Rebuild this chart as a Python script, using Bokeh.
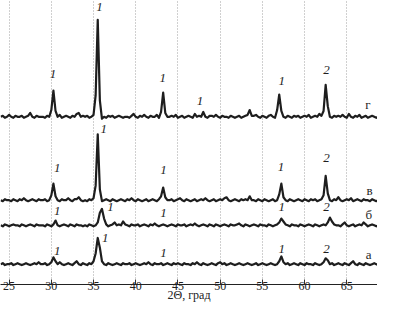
import numpy as np
from bokeh.plotting import figure
from bokeh.models import ColumnDataSource, FixedTicker
from bokeh.core.properties import value
from bokeh.embed import file_html
from bokeh.resources import INLINE

# 2-theta sampling (degrees), 0.25 deg step from 24.0 to 68.75
TWO_THETA = np.arange(24.0, 68.76, 0.25)

# intensities (arbitrary units), rows of 5 degrees
I_G = [  # trace "г"
    3,4,2,3,5,3,2,4,3,3,4,2,3,4,7,3,2,4,3,3,
    3,2,4,3,10,30,9,3,5,2,3,4,3,2,4,3,6,7,3,4,
    3,4,2,3,5,25,103,20,1,3,2,4,3,4,2,3,4,3,2,3,
    3,2,4,6,3,2,4,3,5,3,2,4,3,3,5,2,8,28,7,3,
    3,4,3,5,2,3,4,2,3,4,3,2,6,3,4,3,8,3,2,4,
    4,3,5,3,2,4,3,3,2,4,3,2,3,4,2,3,4,5,10,4,
    4,5,3,2,4,3,2,4,5,3,2,10,26,9,3,2,4,3,2,4,
    3,4,2,3,4,3,5,2,3,4,3,6,4,9,36,14,3,2,4,3,
    4,3,5,3,2,6,3,2,4,3,5,2,3,4,2,3,4,3,2,3,
]
I_V = [  # trace "в"
    3,2,4,3,3,2,4,3,2,4,3,5,3,2,3,4,3,2,4,3,
    3,4,2,3,8,20,7,3,2,4,3,3,5,3,2,4,4,6,3,2,
    3,2,4,3,5,18,71,14,2,3,4,3,2,4,3,2,3,4,3,2,
    4,3,5,3,2,4,3,2,3,4,2,3,4,3,2,4,7,16,6,3,
    3,4,2,3,4,5,3,2,4,3,2,3,4,2,3,4,3,5,3,2,
    3,4,2,3,4,3,5,6,3,2,3,4,3,2,4,3,4,3,7,3,
    3,2,4,3,2,4,3,2,3,4,2,3,9,20,6,3,2,4,3,2,
    3,4,3,2,4,3,2,4,3,4,2,3,4,8,28,10,3,2,4,3,
    6,3,2,3,4,3,5,2,3,4,3,2,4,3,3,2,4,3,2,3,
]
I_B = [  # trace "б"
    3,2,4,3,2,3,4,3,3,2,4,3,2,3,4,3,2,4,3,3,
    3,2,4,3,2,4,8,3,2,3,4,3,2,4,3,2,4,3,3,2,
    3,2,4,3,2,3,6,16,20,10,4,2,3,4,6,3,4,3,7,4,
    3,2,4,3,3,4,2,3,4,3,2,4,3,5,3,2,3,4,3,2,
    3,4,3,2,4,3,3,4,2,3,4,3,5,3,2,3,4,3,2,4,
    3,2,4,3,2,3,4,3,2,4,3,3,4,5,3,2,4,3,2,3,
    4,3,2,4,3,3,2,4,3,2,3,4,6,10,7,4,3,2,4,3,
    3,2,4,3,2,3,4,3,2,4,3,2,3,4,3,6,11,7,4,3,
    3,2,4,6,3,2,3,4,2,3,4,3,6,4,2,3,4,3,2,3,
]
I_A = [  # trace "а"
    3,4,2,3,3,4,2,3,4,3,2,3,4,3,2,3,4,3,5,3,
    3,4,2,3,5,10,6,3,5,3,2,3,4,3,2,4,6,3,2,4,
    3,2,4,3,6,14,30,20,6,3,2,4,3,2,3,4,3,2,4,3,
    3,4,2,3,4,3,2,3,4,3,5,3,2,4,3,3,4,2,3,4,
    3,2,4,3,4,3,2,4,3,3,2,4,3,5,3,2,4,3,2,3,
    4,3,2,4,5,3,4,2,3,4,3,2,3,4,3,2,3,4,3,2,
    3,4,2,3,4,3,2,3,4,3,2,3,6,11,5,3,4,2,3,4,
    3,2,4,3,2,4,3,3,2,4,3,2,3,5,9,7,3,4,2,3,
    4,3,2,4,3,2,4,6,3,2,4,3,2,4,3,2,3,4,3,2,
]
SERIES = [I_A, I_B, I_V, I_G]
OFFSETS = [18, 58, 84, 170]   # vertical stacking of the traces

# peak labels (phase numbers) and trace letters
PEAK_X = [30.2, 35.7, 43.2, 47.6, 57.3, 62.6,
          30.7, 36.2, 43.3, 57.2, 62.6,
          30.7, 37.0, 43.3, 57.3, 62.6,
          30.7, 36.4, 43.3, 57.3, 62.6]
PEAK_Y = [217, 286, 213, 189, 210, 221,
          120, 160, 118, 121, 130,
          76, 80, 74, 80, 80,
          35, 48, 33, 37, 37]
PEAK_TEXT = ["1", "1", "1", "1", "1", "2",
             "1", "1", "1", "1", "2",
             "1", "1", "1", "1", "2",
             "1", "1", "1", "1", "2"]
TRACE_X = [67.5, 67.7, 67.6, 67.6]
TRACE_Y = [186, 97, 72, 31]
TRACE_TEXT = ["г", "в", "б", "а"]
TICKS = [25, 30, 35, 40, 45, 50, 55, 60, 65]

SERIF = "'Liberation Serif', 'Times New Roman', serif"

p = figure(width=377, height=304, x_range=(23.98, 68.64), y_range=(0, 293),
           output_backend="svg", toolbar_location=None,
           min_border_left=0, min_border_right=0, min_border_top=0,
           min_border_bottom=0)
p.outline_line_color = None
p.yaxis.visible = False
p.ygrid.visible = False

p.xaxis.ticker = FixedTicker(ticks=TICKS)
p.xgrid.ticker = FixedTicker(ticks=TICKS)
p.xgrid.grid_line_color = "#a0a0a0"
p.xgrid.grid_line_dash = "1 2"
p.xgrid.grid_line_width = 1
p.xaxis.minor_tick_line_color = None
p.xaxis.major_tick_in = 5
p.xaxis.major_tick_out = 0
p.xaxis.major_tick_line_color = "#333333"
p.xaxis.axis_line_color = "#222222"
p.xaxis.major_label_standoff = -3
p.xaxis.major_label_text_font = SERIF
p.xaxis.major_label_text_font_size = "12px"
p.xaxis.major_label_text_color = "#222222"
p.xaxis.axis_label = "2Θ, град"
p.xaxis.axis_label_text_font = SERIF
p.xaxis.axis_label_text_font_size = "12px"
p.xaxis.axis_label_text_font_style = "normal"
p.xaxis.axis_label_text_color = "#222222"
p.xaxis.axis_label_standoff = -5

for vals, off in zip(SERIES, OFFSETS):
    y = np.array(vals, dtype=float) + off
    p.line(TWO_THETA, y, line_color="#1e1e1e", line_width=2.2,
           line_join="round")

src = ColumnDataSource(dict(x=PEAK_X, y=PEAK_Y, t=PEAK_TEXT))
p.text(x="x", y="y", text="t", source=src, text_align="center",
       text_baseline="middle", text_font=value(SERIF),
       text_font_style="italic", text_font_size="13px", text_color="#1e1e1e")

src2 = ColumnDataSource(dict(x=TRACE_X, y=TRACE_Y, t=TRACE_TEXT))
p.text(x="x", y="y", text="t", source=src2, text_align="center",
       text_baseline="middle", text_font=value(SERIF),
       text_font_size="13px", text_color="#1e1e1e")

open("out.html", "w").write(file_html(p, INLINE))
